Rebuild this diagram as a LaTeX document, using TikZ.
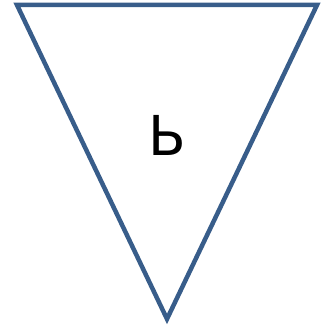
\documentclass[tikz,border=0pt]{standalone}
\usepackage{fontspec}
\setmainfont{DejaVu Sans}
\usetikzlibrary{positioning}
\definecolor{edgeblue}{RGB}{56,93,138}

\begin{document}
\begin{tikzpicture}[x=1pt,y=1pt]
  \useasboundingbox (0,0) rectangle (324,328);
  % Inverted triangle
  \coordinate (TL) at (17,323);
  \coordinate (TR) at (317,323);
  \coordinate (B) at (167,9);
  \draw[line width=4.5pt, color=edgeblue, line join=miter] (TL) -- (TR) -- (B) -- cycle;

  % Letter
  \node[inner sep=0pt, font=\fontsize{55}{60}\selectfont] (L) at (167.5,193) {Ь};
\end{tikzpicture}
\end{document}
